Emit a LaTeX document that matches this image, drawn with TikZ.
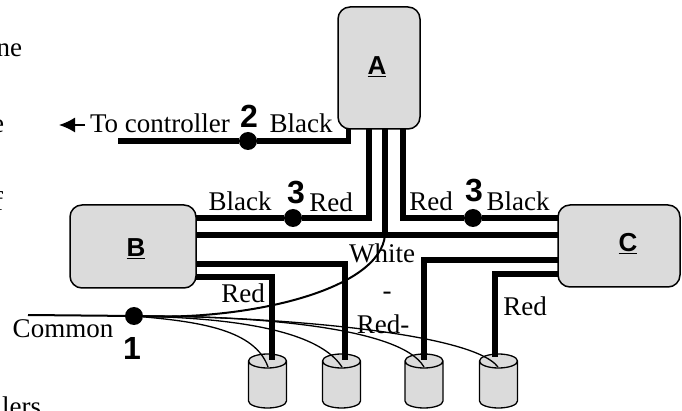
\documentclass[tikz,border=0pt]{standalone}
\usepackage{fontspec}
\usetikzlibrary{arrows.meta}
\setmainfont{Liberation Serif}
\newfontfamily\hv{Liberation Sans}
\begin{document}
\begin{tikzpicture}[x=1pt,y=-1pt,
  box/.style={draw=black,line width=1.5pt,fill=black!14,rounded corners=12pt},
  wire/.style={line width=5.8pt,line join=miter},
  thinwire/.style={line width=1.3pt},
  dotn/.style={circle,fill=black,inner sep=0pt,minimum size=18pt},
  lab/.style={font=\fontsize{27}{27}\selectfont,inner sep=0pt,anchor=base},
  num/.style={font=\fontsize{32}{32}\selectfont\hv\bfseries,inner sep=0pt,anchor=base},
  boxcap/.style={font=\fontsize{26}{26}\selectfont\hv\bfseries,inner sep=0pt,anchor=base}]
\useasboundingbox (0,0) rectangle (682,411);
% wires
\coordinate (w2l) at (118,141);
\node[dotn] (d2) at (248,141) {};
\node[dotn] (d3l) at (293,218) {};
\node[dotn] (d3r) at (473,218) {};
\node[dotn] (d1) at (134,316) {};
\draw[wire] (w2l) -- (d2) -- (348.5,141) -- (348.5,125);
\draw[wire] (369,125) |- (d3l) -- (190,218);
\draw[wire] (403,125) |- (d3r) -- (565,218);
\draw[wire] (385,125) -- (385,235);
\draw[wire] (190,235) -- (565,235);
\draw[wire] (190,264) -- (345,264) -- (345,360);
\draw[wire] (190,277) -- (272,277) -- (272,360);
\draw[wire] (565,260) -- (424,260) -- (424,360);
\draw[wire] (565,274) -- (495,274) -- (495,357);
% cylinders
\foreach \n/\x in {1/267.5,2/341.5,3/424,4/498.5}{
  \draw[line width=1.3pt,fill=black!14] (\x-19,361) -- (\x-19,401) arc[start angle=180,end angle=360,x radius=19,y radius=-7] -- (\x+19,361) arc[start angle=0,end angle=360,x radius=19,y radius=-7];
}
% wire ends on top of cylinder lids
\draw[wire] (272,340) -- (272,360);
\draw[wire] (345,340) -- (345,360);
\draw[wire] (424,340) -- (424,360);
\draw[wire] (495,340) -- (495,357);
% common
\draw[line width=2pt] (28,315) -- (d1);
\draw[thinwire] (d1) .. controls (200,322) and (255,330) .. (268,367);
\draw[thinwire] (d1) .. controls (210,318) and (315,325) .. (342,367);
\draw[thinwire] (d1) .. controls (240,316) and (400,325) .. (424,367);
\draw[thinwire] (d1) .. controls (250,316) and (470,330) .. (498,367);
\draw[line width=2pt] (d1) .. controls (250,320) and (380,290) .. (385,235);
% boxes
\node[box,minimum width=82pt,minimum height=122pt] (A) at (379,68) {};
\node[box,minimum width=126pt,minimum height=83pt] (B) at (133,246.5) {};
\node[box,minimum width=122pt,minimum height=82pt] (C) at (619,246) {};
\node[boxcap] at (377,75) {\underline{A}};
\node[boxcap] at (136,257) {\underline{B}};
\node[boxcap] at (628,252) {\underline{C}};
% labels
\coordinate (arrowtail) at (85,125);
\coordinate (arrowhead) at (59,125);
\draw[line width=1.5pt,-{Latex[length=16pt,width=15pt]}] (arrowtail) -- (arrowhead);
\node[lab] at (160,133) {To controller};
\node[lab] at (301,133) {Black};
\node[num] at (249,128) {2};
\node[lab] at (240,211) {Black};
\node[lab] at (331,212) {Red};
\node[lab] at (431,211) {Red};
\node[lab] at (518,211) {Black};
\node[num] at (296,204) {3};
\node[num] at (474,202) {3};
\node[lab] at (382,263) {White};
\node[lab] at (387,300) {-};
\node[lab] at (383,333) {Red-};
\node[lab] at (243,303) {Red};
\node[lab] at (525,316) {Red};
\node[lab] at (63,337) {Common};
\node[num] at (132,359) {1};
\node[lab,anchor=base west] at (-3.5,57) {ne};
\node[lab,anchor=base west] at (-8,133) {e};
\node[lab,anchor=base west] at (-6,211) {f};
\node[lab,anchor=base west] at (2,415) {lers};
\end{tikzpicture}
\end{document}
